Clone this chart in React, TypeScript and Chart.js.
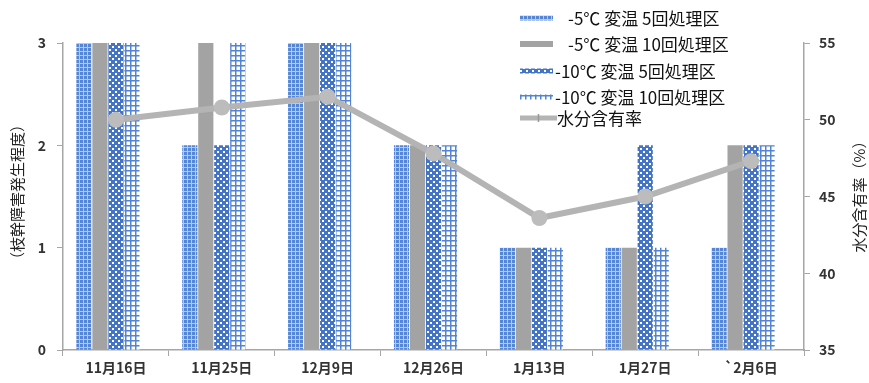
import React, { useEffect, useRef } from "react";
import { Chart, registerables } from "chart.js";

Chart.register(...registerables);

const categories = ["11月16日", "11月25日", "12月9日", "12月26日", "1月13日", "1月27日", "`2月6日"];
const seriesNames = ["-5℃ 変温 5回処理区", "-5℃ 変温 10回処理区", "-10℃ 変温 5回処理区", "-10℃ 変温 10回処理区", "水分含有率"];
const minus5x5 = [3, 2, 3, 2, 1, 1, 1];
const minus5x10 = [3, 3, 3, 2, 1, 1, 2];
const minus10x5 = [3, 2, 3, 2, 1, 2, 2];
const minus10x10 = [3, 3, 3, 2, 1, 1, 2];
const moisture = [50.0, 50.8, 51.5, 47.8, 43.6, 45.0, 47.3];
const leftTitle = "（枝幹障害発生程度）";
const rightTitle = "水分含有率（%）";

const FONT = "'Noto Sans CJK JP', 'Noto Sans', sans-serif";

function makePattern(size: number, draw: (ctx: CanvasRenderingContext2D) => void) {
  const c = document.createElement("canvas");
  c.width = size;
  c.height = size;
  const ctx = c.getContext("2d")!;
  draw(ctx);
  return ctx.createPattern(c, "repeat")!;
}

export default function App() {
  const ref = useRef<HTMLCanvasElement | null>(null);

  useEffect(() => {
    const canvas = ref.current!;
    const patA = makePattern(4, (ctx) => {
      ctx.fillStyle = "#b4cbef";
      ctx.fillRect(0, 0, 4, 4);
      ctx.fillStyle = "#5585d6";
      ctx.fillRect(0, 0, 3, 3);
    });
    const patC = makePattern(6, (ctx) => {
      ctx.fillStyle = "#4474c8";
      ctx.fillRect(0, 0, 6, 6);
      ctx.fillStyle = "#ffffff";
      ctx.fillRect(1, 1, 2, 2);
      ctx.fillRect(4, 4, 2, 2);
    });
    const patD = makePattern(5, (ctx) => {
      ctx.fillStyle = "#ffffff";
      ctx.fillRect(0, 0, 5, 5);
      ctx.fillStyle = "#5283d4";
      ctx.fillRect(0, 0, 5, 1.5);
      ctx.fillRect(0, 0, 1.5, 5);
    });
    const gray = "#a3a3a3";
    const lineGray = "#b4b4b4";
    const fills = [patA, gray, patC, patD];

    const overlay = {
      id: "overlay",
      afterDraw(chart: any) {
        const ctx = chart.ctx as CanvasRenderingContext2D;
        ctx.save();
        // axis titles
        ctx.fillStyle = "#222";
        ctx.font = `15px ${FONT}`;
        ctx.textAlign = "center";
        ctx.textBaseline = "middle";
        ctx.save();
        ctx.translate(17, 192);
        ctx.rotate(-Math.PI / 2);
        ctx.fillText(leftTitle, 0, 0);
        ctx.restore();
        ctx.save();
        ctx.translate(859, 193);
        ctx.rotate(-Math.PI / 2);
        ctx.fillText(rightTitle, 0, 0);
        ctx.restore();

        // legend
        const rows = [18, 44, 71, 97, 118];
        const textX = [568, 568, 555, 555, 557];
        ctx.fillStyle = "#fff";
        ctx.fillRect(515, 4, 235, 125);
        for (let i = 0; i < 4; i++) {
          ctx.fillStyle = fills[i] as any;
          const h = i === 1 ? 6 : 5;
          ctx.fillRect(520, rows[i] - h / 2, 33, h);
        }
        ctx.strokeStyle = lineGray;
        ctx.lineWidth = 5;
        ctx.beginPath();
        ctx.moveTo(520, rows[4]);
        ctx.lineTo(557, rows[4]);
        ctx.stroke();
        ctx.lineWidth = 1.5;
        ctx.strokeStyle = "#999";
        ctx.beginPath();
        ctx.moveTo(538.5, rows[4] - 4);
        ctx.lineTo(538.5, rows[4] + 4);
        ctx.stroke();
        ctx.fillStyle = "#111";
        ctx.font = `17px ${FONT}`;
        ctx.textAlign = "left";
        ctx.textBaseline = "middle";
        for (let i = 0; i < 5; i++) {
          ctx.fillText(seriesNames[i], textX[i], rows[i] + 1);
        }
        ctx.restore();
      },
    };

    const tickFont = { family: FONT, size: 14, weight: "bold" as const };
    const axisColor = "#a6a6a6";

    const chart = new Chart(canvas, {
      type: "bar",
      data: {
        labels: categories,
        datasets: [
          {
            type: "line",
            label: seriesNames[4],
            data: moisture,
            yAxisID: "y1",
            borderColor: lineGray,
            backgroundColor: lineGray,
            borderWidth: 6,
            pointRadius: 8,
            pointBackgroundColor: "#bcbcbc",
            pointBorderWidth: 0,
            order: 0,
          } as any,
          { label: seriesNames[0], data: minus5x5, backgroundColor: patA, yAxisID: "y", order: 1 },
          { label: seriesNames[1], data: minus5x10, backgroundColor: gray, yAxisID: "y", order: 1 },
          { label: seriesNames[2], data: minus10x5, backgroundColor: patC, yAxisID: "y", order: 1 },
          { label: seriesNames[3], data: minus10x10, backgroundColor: patD, yAxisID: "y", order: 1 },
          { label: "", data: categories.map(() => null), backgroundColor: "transparent", yAxisID: "y", order: 1 },
        ],
      },
      options: {
        responsive: false,
        animation: false,
        events: [],
        layout: { padding: { top: 43, left: 0, right: 0, bottom: 0 } },
        datasets: { bar: { categoryPercentage: 0.755, barPercentage: 0.95 } } as any,
        plugins: { legend: { display: false }, tooltip: { enabled: false }, title: { display: false } },
        scales: {
          x: {
            offset: true,
            grid: { display: true, drawOnChartArea: false, offset: true, tickLength: 6, color: axisColor },
            border: { color: axisColor, width: 1.5 },
            ticks: { font: tickFont, color: "#333", padding: 3, maxRotation: 0, autoSkip: false },
            afterFit: (s: any) => { s.height = 33; },
          },
          y: {
            position: "left",
            min: 0,
            max: 3,
            ticks: { stepSize: 1, font: tickFont, color: "#333", padding: 11 },
            grid: { display: true, drawOnChartArea: false, tickLength: 6, color: axisColor },
            border: { color: axisColor, width: 1.5 },
            afterFit: (s: any) => { s.width = 63; },
          },
          y1: {
            position: "right",
            min: 35,
            max: 55,
            ticks: { stepSize: 5, font: tickFont, color: "#333", padding: 9 },
            grid: { display: true, drawOnChartArea: false, tickLength: 6, color: axisColor },
            border: { color: axisColor, width: 1.5 },
            afterFit: (s: any) => { s.width = 65; },
          },
        },
      },
      plugins: [overlay],
    });
    return () => chart.destroy();
  }, []);

  return (
    <div style={{ position: "fixed", left: 0, top: 0, width: 869, height: 383, background: "#fff" }}>
      <canvas ref={ref} width={869} height={383} style={{ display: "block" }} />
    </div>
  );
}
